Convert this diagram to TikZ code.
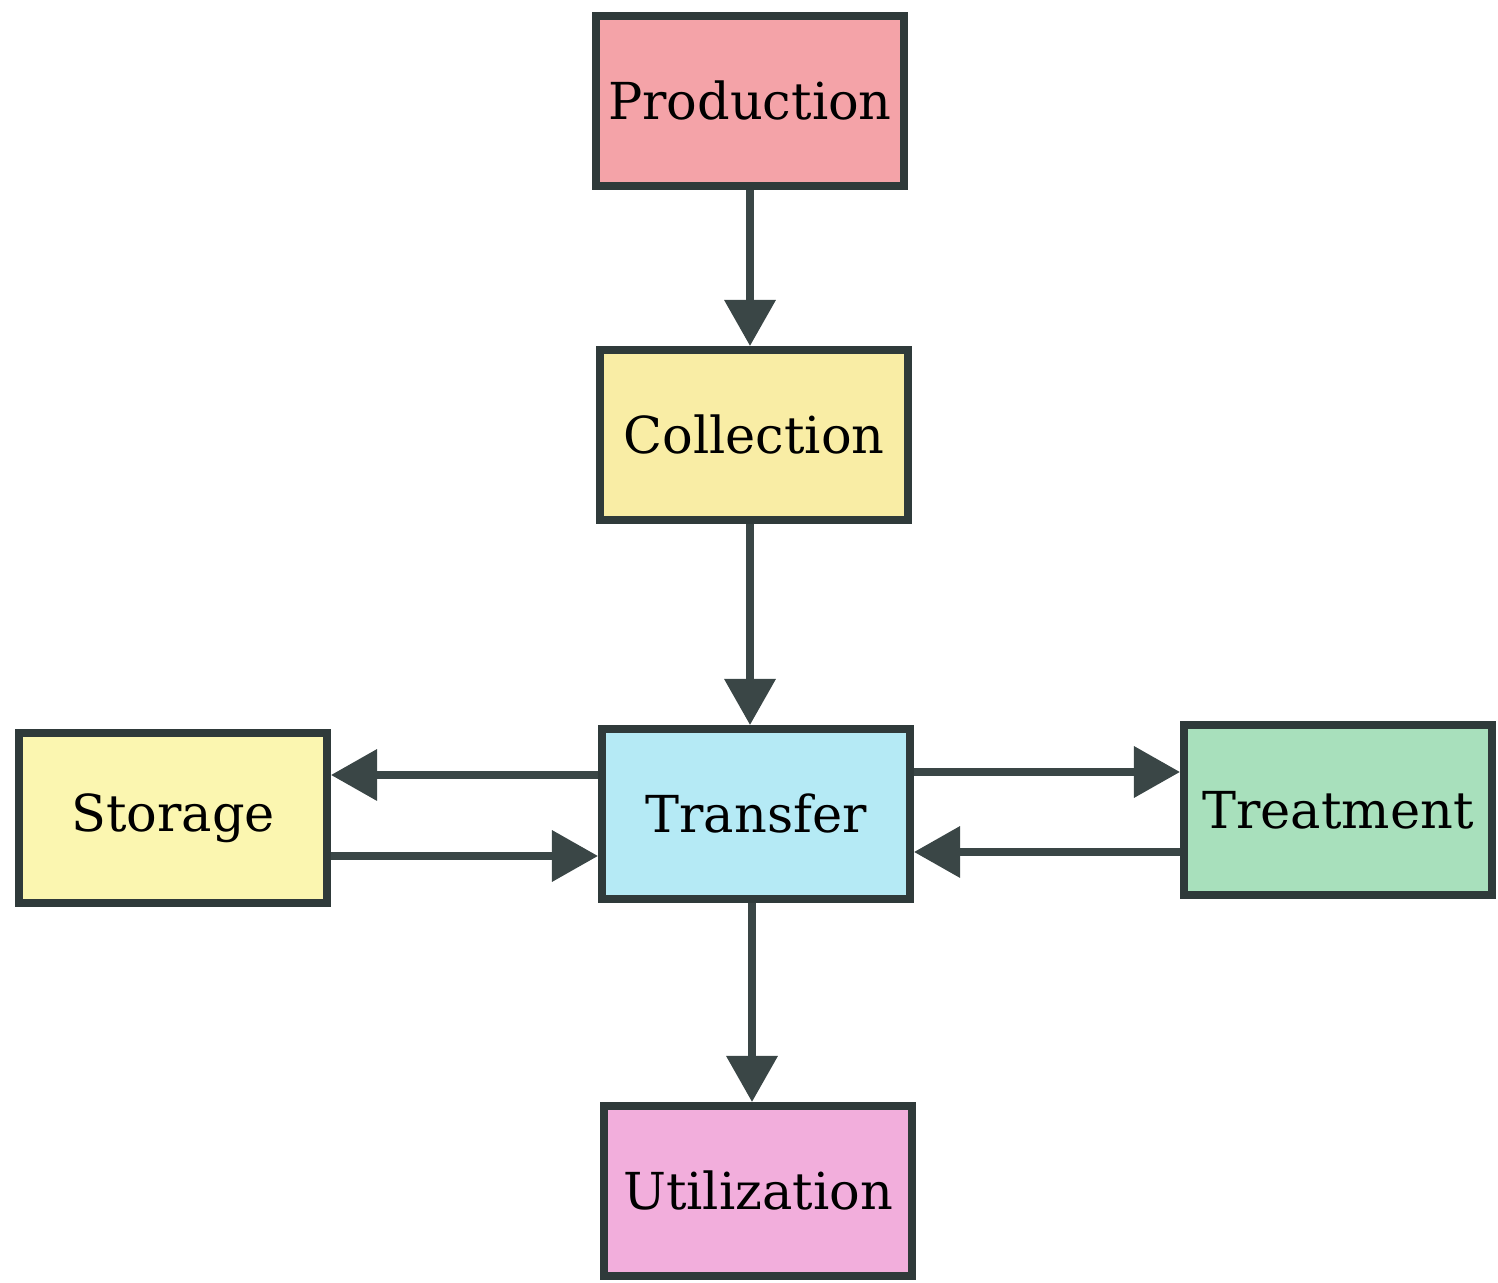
\documentclass[tikz,border=0pt]{standalone}
\usepackage{fontspec}
\setmainfont{DejaVu Serif}
\usetikzlibrary{arrows.meta,calc}
\definecolor{edgegray}{HTML}{2F3A3A}
\definecolor{arrowgray}{HTML}{3A4646}
\definecolor{prodred}{HTML}{F4A3A8}
\definecolor{collyellow}{HTML}{F9EDA5}
\definecolor{storyellow}{HTML}{FBF6B0}
\definecolor{transcyan}{HTML}{B5EAF5}
\definecolor{treatgreen}{HTML}{A8E0BC}
\definecolor{utilpink}{HTML}{F2AEDC}
\tikzset{%
  stagebox/.style = {shape=rectangle, draw=edgegray, line width=2.3pt,%
                     minimum width=3.08cm, minimum height=1.7cm,%
                     align=center, font=\fontsize{14.5}{17}\selectfont},%
  flow/.style     = {draw=arrowgray, line width=2pt,%
                     -{Triangle[length=0.46cm,width=0.5cm]}}%
}
\begin{document}
\begin{tikzpicture}
	\useasboundingbox (0,0) rectangle (14.98,-12.83);
	\node [stagebox,fill=prodred]    (prod)  at (7.50,-1.01)  {Production};
	\node [stagebox,fill=collyellow] (coll)  at (7.54,-4.35)  {Collection};
	\node [stagebox,fill=transcyan]  (trans) at (7.56,-8.14)  {Transfer};
	\node [stagebox,fill=storyellow] (stor)  at (1.73,-8.18)  {Storage};
	\node [stagebox,fill=treatgreen] (treat) at (13.38,-8.10) {Treatment};
	\node [stagebox,fill=utilpink]   (util)  at (7.58,-11.91) {Utilization};
	% main line
	\draw [flow] (prod.south) -- (prod.south |- coll.north);
	\draw [flow] ([xshift=-0.04cm]coll.south) -- ([xshift=-0.04cm]coll.south |- trans.north);
	\draw [flow] ([xshift=-0.04cm]trans.south) -- ([xshift=-0.04cm]trans.south |- util.north);
	% side loops
	\draw [flow] ([yshift=0.39cm]trans.west) -- ([yshift=0.39cm]trans.west -| stor.east);
	\draw [flow] ([yshift=-0.42cm]trans.west -| stor.east) -- ([yshift=-0.42cm]trans.west);
	\draw [flow] ([yshift=0.42cm]trans.east) -- ([yshift=0.42cm]trans.east -| treat.west);
	\draw [flow] ([yshift=-0.38cm]trans.east -| treat.west) -- ([yshift=-0.38cm]trans.east);
\end{tikzpicture}
\end{document}
